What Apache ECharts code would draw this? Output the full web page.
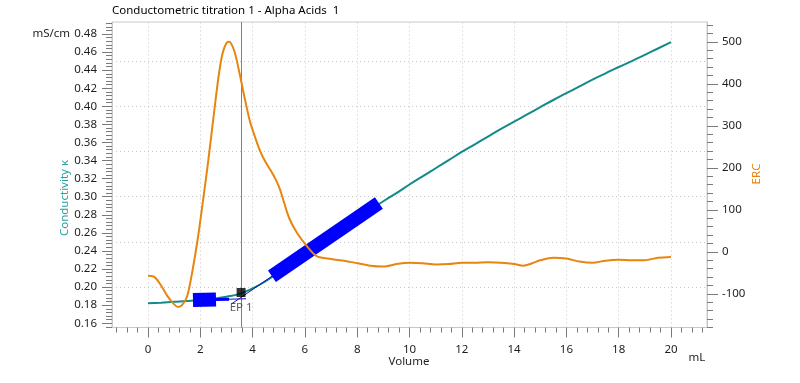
<!DOCTYPE html>
<html>
<head>
<meta charset="utf-8">
<script src="https://cdn.jsdelivr.net/npm/echarts@6/dist/echarts.min.js"></script>
<style>
  html, body { margin: 0; background: #fff; }
  #chart { width: 800px; height: 383px; }
</style>
</head>
<body>
<div id="chart"></div>
<script>
// conductivity curve, mS/cm
const volume = [0, 0.5, 1, 1.5, 2, 2.5, 3, 3.5, 4, 4.5, 5, 5.5, 6, 6.5, 7, 7.5, 8, 8.5, 9, 9.5,
  10, 10.5, 11, 11.5, 12, 12.5, 13, 13.5, 14, 14.5, 15, 15.5, 16, 16.5, 17, 17.5, 18, 18.5, 19, 19.5, 20];
const conductivity = [0.182, 0.1828, 0.1837, 0.1846, 0.1857, 0.1872, 0.1893, 0.1925, 0.1985, 0.2065,
  0.2165, 0.2265, 0.2365, 0.2465, 0.2565, 0.2665, 0.276, 0.2855, 0.295, 0.304,
  0.3135, 0.3225, 0.3315, 0.3405, 0.3495, 0.358, 0.3665, 0.375, 0.383, 0.391,
  0.399, 0.407, 0.4145, 0.422, 0.4295, 0.4365, 0.4435, 0.450, 0.457, 0.464, 0.471];

// ERC curve
const ercVolume = [0, 0.25, 0.5, 0.75, 1.0, 1.15, 1.3, 1.5, 1.7, 1.9, 2.1, 2.3, 2.5, 2.7, 2.85,
  3.0, 3.1, 3.3, 3.5, 3.7, 3.9, 4.1, 4.3, 4.5, 4.7, 4.9, 5.05, 5.2, 5.4, 5.7,
  6.1, 6.45, 7.0, 7.5, 8.0, 8.5, 9.0, 9.5, 10.0, 10.5, 11.0, 11.5, 12.0, 12.5, 13.0,
  13.5, 14.0, 14.35, 14.7, 15.0, 15.5, 16.0, 16.5, 17.0, 17.5, 18.0, 18.5, 19.0, 19.5, 20.0];
const ercValue = [-57, -60, -80, -106, -125, -131, -127, -105, -45, 30, 120, 215, 318, 418, 472,
  497, 500, 478, 425, 365, 310, 272, 238, 213, 193, 170, 148, 118, 80, 45,
  12, -10, -17, -21, -27, -33, -35, -29, -26, -27, -30, -29, -26, -26, -25,
  -26, -29, -33, -27, -20, -14, -16, -23, -26, -21, -19, -20, -20, -14, -12];

// fit regions and tangents
const fit1Thick = [[1.72, 0.1857], [2.6, 0.1862]];
const fit1Line = [[2.6, 0.1862], [3.1, 0.1866]];
const fit1Ext = [[3.1, 0.1866], [3.75, 0.1871]];
const fit2Ext = [[3.2, 0.1815], [4.8, 0.2132]];
const fit2Thick = [[4.74, 0.212], [8.83, 0.293]];

const epPoint = [3.56, 0.194];

// tick labels
const volumeTicks = [0, 2, 4, 6, 8, 10, 12, 14, 16, 18, 20];
const condTicks = [0.16, 0.18, 0.20, 0.22, 0.24, 0.26, 0.28, 0.30, 0.32, 0.34, 0.36, 0.38, 0.40, 0.42, 0.44, 0.46, 0.48];
const condGrid = [0.20, 0.25, 0.30, 0.35, 0.40, 0.45];
const ercTicks = [-100, 0, 100, 200, 300, 400, 500];

function steps(from, to, step) {
  const out = [];
  for (let v = from; v <= to + 1e-9; v += step) out.push(+v.toFixed(4));
  return out;
}

const font = 'Noto Sans';
const fontSize = 11.5;
const teal = '#138a8a';
const orange = '#e8850f';
const blue = '#0000ff';
const gridColor = '#c8c8c8';
const tickColor = '#7a7a7a';
const textColor = '#1e1e1e';

const xMin = -1.377, xMax = 21.377;
const yMin = 0.1553, yMax = 0.4933;
const rMin = -180, rMax = 547;

const hidden = {
  axisLine: {show: false, onZero: false},
  axisLabel: {show: false},
  splitLine: {show: false}
};
const gfont = fontSize + 'px "' + font + '"';

const chart = echarts.init(document.getElementById('chart'));
chart.setOption({
  animation: false,
  textStyle: {fontFamily: font},
  grid: {left: 112, right: 93, top: 22, bottom: 55.5, show: true, borderColor: gridColor, borderWidth: 1},
  xAxis: [
    {
      type: 'value', min: xMin, max: xMax,
      axisLine: {show: true, onZero: false, lineStyle: {color: gridColor}},
      axisTick: {show: true, customValues: steps(-1.2, 21.2, 0.4), length: 5, lineStyle: {color: tickColor}},
      axisLabel: {customValues: volumeTicks, margin: 16, color: textColor, fontSize: fontSize, fontFamily: font},
      splitLine: {show: false}
    },
    Object.assign({}, hidden, {
      type: 'value', min: xMin, max: xMax, position: 'bottom',
      axisTick: {show: true, customValues: volumeTicks, length: 10, lineStyle: {color: tickColor}}
    })
  ],
  yAxis: [
    {
      type: 'value', position: 'left', min: yMin, max: yMax,
      axisLine: {show: true, onZero: false, lineStyle: {color: gridColor}},
      axisTick: {show: true, customValues: steps(0.156, 0.492, 0.004), length: 6, lineStyle: {color: tickColor}},
      axisLabel: {customValues: condTicks, formatter: v => v.toFixed(2), margin: 15, color: textColor, fontSize: fontSize, fontFamily: font},
      splitLine: {show: false}
    },
    Object.assign({}, hidden, {
      type: 'value', position: 'left', min: yMin, max: yMax,
      axisTick: {show: true, customValues: condTicks, length: 10, lineStyle: {color: tickColor}}
    }),
    {
      type: 'value', position: 'right', min: rMin, max: rMax,
      axisLine: {show: true, onZero: false, lineStyle: {color: gridColor}},
      axisTick: {show: true, customValues: steps(-180, 540, 20), length: 6, lineStyle: {color: tickColor}},
      axisLabel: {customValues: ercTicks, margin: 15, color: textColor, fontSize: fontSize, fontFamily: font},
      splitLine: {show: false}
    },
    Object.assign({}, hidden, {
      type: 'value', position: 'right', min: rMin, max: rMax,
      axisTick: {show: true, customValues: ercTicks, length: 11, lineStyle: {color: tickColor}}
    })
  ],
  graphic: [
    {type: 'text', left: 112, top: 5, style: {text: 'Conductometric titration 1 - Alpha Acids  1', font: gfont, fill: '#000'}},
    {type: 'text', x: 70, y: 34, style: {text: 'mS/cm', font: gfont, fill: textColor, align: 'right', verticalAlign: 'middle'}},
    {type: 'text', x: 65, y: 198, rotation: Math.PI / 2, style: {text: 'Conductivity κ', font: gfont, fill: '#2a9d9d', align: 'center', verticalAlign: 'middle'}},
    {type: 'text', x: 757, y: 174, rotation: Math.PI / 2, style: {text: 'ERC', font: gfont, fill: orange, align: 'center', verticalAlign: 'middle'}},
    {type: 'text', x: 409, y: 362, style: {text: 'Volume', font: gfont, fill: textColor, align: 'center', verticalAlign: 'middle'}},
    {type: 'text', x: 697, y: 358, style: {text: 'mL', font: gfont, fill: textColor, align: 'center', verticalAlign: 'middle'}}
  ],
  series: [
    {
      // dotted grid
      name: 'grid', type: 'line', xAxisIndex: 0, yAxisIndex: 0, data: [], z: 1,
      markLine: {
        silent: true, z: 1, symbol: ['none', 'none'], label: {show: false},
        lineStyle: {color: gridColor, type: [1, 3], width: 1},
        data: volumeTicks.map(v => ({xAxis: v})).concat(condGrid.map(v => ({yAxis: v})))
      }
    },
    {
      name: 'Conductivity', type: 'line', xAxisIndex: 0, yAxisIndex: 0,
      data: volume.map((v, i) => [v, conductivity[i]]),
      smooth: true, symbol: 'none', lineStyle: {color: teal, width: 2}, z: 3
    },
    {
      name: 'fit1', type: 'line', xAxisIndex: 0, yAxisIndex: 0, data: fit1Thick,
      symbol: 'none', lineStyle: {color: blue, width: 14, cap: 'butt'}, z: 4
    },
    {
      name: 'fit1 line', type: 'line', xAxisIndex: 0, yAxisIndex: 0, data: fit1Line,
      symbol: 'none', lineStyle: {color: blue, width: 3}, z: 4
    },
    {
      name: 'fit1 ext', type: 'line', xAxisIndex: 0, yAxisIndex: 0, data: fit1Ext,
      symbol: 'none', lineStyle: {color: '#1010a8', width: 1}, z: 4
    },
    {
      name: 'fit2 ext', type: 'line', xAxisIndex: 0, yAxisIndex: 0, data: fit2Ext,
      symbol: 'none', lineStyle: {color: '#1010a8', width: 1}, z: 4
    },
    {
      name: 'fit2', type: 'line', xAxisIndex: 0, yAxisIndex: 0, data: fit2Thick,
      symbol: 'none', lineStyle: {color: blue, width: 14, cap: 'butt'}, z: 4
    },
    {
      name: 'ERC', type: 'line', xAxisIndex: 0, yAxisIndex: 2,
      data: ercVolume.map((v, i) => [v, ercValue[i]]),
      smooth: 0.3, symbol: 'none', lineStyle: {color: orange, width: 2}, z: 5
    },
    {
      name: 'EP', type: 'scatter', xAxisIndex: 0, yAxisIndex: 0, data: [epPoint],
      symbol: 'rect', symbolSize: 9, itemStyle: {color: '#000'}, z: 6,
      label: {show: true, formatter: 'EP 1', position: 'bottom', distance: 5, color: '#333', fontSize: fontSize, fontFamily: font},
      markLine: {
        silent: true, z: 2, symbol: ['none', 'none'], label: {show: false},
        lineStyle: {color: '#808080', type: 'solid', width: 1},
        data: [{xAxis: epPoint[0]}]
      }
    }
  ]
});
</script>
</body>
</html>
